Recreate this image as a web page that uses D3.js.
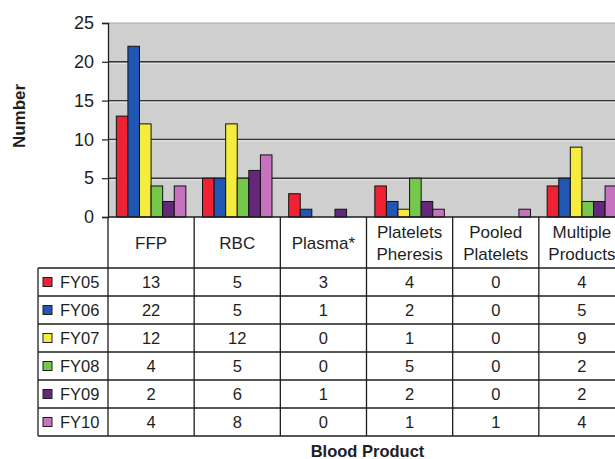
<!DOCTYPE html>
<html>
<head>
<meta charset="utf-8">
<script src="https://cdn.jsdelivr.net/npm/d3@7"></script>
<style>
  html, body { margin: 0; padding: 0; background: #fff; overflow: hidden; }
  svg { display: block; font-family: "Liberation Sans", Arial, sans-serif; }
</style>
</head>
<body>
<svg id="chart" width="615" height="459"></svg>
<script>
// Blood product categories (header lines for the data table)
const categories = ["FFP", "RBC", "Plasma*", "Platelets Pheresis", "Pooled Platelets", "Multiple Products"];
const categoryLines = [["FFP"], ["RBC"], ["Plasma*"], ["Platelets", "Pheresis"], ["Pooled", "Platelets"], ["Multiple", "Products"]];

// Fiscal years and counts per category
const years = ["FY05", "FY06", "FY07", "FY08", "FY09", "FY10"];
const fy05 = [13, 5, 3, 4, 0, 4];
const fy06 = [22, 5, 1, 2, 0, 5];
const fy07 = [12, 12, 0, 1, 0, 9];
const fy08 = [4, 5, 0, 5, 0, 2];
const fy09 = [2, 6, 1, 2, 0, 2];
const fy10 = [4, 8, 0, 1, 1, 4];
const seriesValues = [fy05, fy06, fy07, fy08, fy09, fy10];
const colors = ["#ee2233", "#2256b4", "#f6ec3e", "#76c84c", "#64287a", "#c672be"];

const yTicks = [0, 5, 10, 15, 20, 25];

const svg = d3.select("#chart");

const plotLeft = 108, plotRight = 625, plotTop = 23, plotBottom = 217;
const rowTop = 268, rowH = 28, legendLeft = 38;
const ink = "#1e1e1e";

const x = d3.scaleBand().domain(categories).range([plotLeft, plotRight]).paddingInner(0);
const xs = d3.scaleBand().domain(years).range([0, x.bandwidth()]).paddingOuter(0.72).paddingInner(0);
const y = d3.scaleLinear().domain([0, 25]).range([plotBottom, plotTop]);

// plot background
svg.append("rect")
  .attr("x", plotLeft).attr("y", plotTop)
  .attr("width", plotRight - plotLeft).attr("height", plotBottom - plotTop)
  .attr("fill", "#cfcfcf");

// gridlines with a light edge beneath
const grid = svg.append("g");
yTicks.filter(t => t > 0 && t < 25).forEach(t => {
  grid.append("line").attr("x1", plotLeft).attr("x2", plotRight)
    .attr("y1", y(t) + 1.6).attr("y2", y(t) + 1.6)
    .attr("stroke", "#e6e6e6").attr("stroke-width", 1);
  grid.append("line").attr("x1", plotLeft).attr("x2", plotRight)
    .attr("y1", y(t)).attr("y2", y(t))
    .attr("stroke", "#353535").attr("stroke-width", 1.4);
});
grid.append("line").attr("x1", plotLeft).attr("x2", plotRight)
  .attr("y1", y(25)).attr("y2", y(25))
  .attr("stroke", "#a8a8a8").attr("stroke-width", 1.2);

// bars
const groups = svg.append("g").selectAll("g")
  .data(categories)
  .join("g")
  .attr("transform", d => `translate(${x(d)},0)`);

groups.selectAll("rect")
  .data((d, ci) => years.map((yr, si) => ({ yr, v: seriesValues[si][ci], c: colors[si] })))
  .join("rect")
  .filter(d => d.v > 0)
  .attr("x", d => xs(d.yr))
  .attr("width", xs.bandwidth())
  .attr("y", d => y(d.v))
  .attr("height", d => y(0) - y(d.v))
  .attr("fill", d => d.c)
  .attr("stroke", "#111")
  .attr("stroke-width", 1);

// y axis
const yAxis = d3.axisLeft(y).tickValues(yTicks).tickSize(6).tickPadding(8).tickFormat(d3.format("d"));
const ya = svg.append("g").attr("transform", `translate(${plotLeft},0)`).call(yAxis);
ya.select(".domain").attr("stroke", ink).attr("stroke-width", 1.3);
ya.selectAll(".tick line").attr("stroke", ink).attr("stroke-width", 1.2);
ya.selectAll(".tick text").attr("font-size", 18).attr("fill", ink)
  .attr("font-family", "Liberation Sans, Arial, sans-serif");

// data table
const table = svg.append("g").attr("stroke", ink).attr("stroke-width", 1.3);
const tableBottom = rowTop + rowH * years.length;
// axis baseline / table top
table.append("line").attr("x1", plotLeft).attr("x2", plotRight).attr("y1", plotBottom).attr("y2", plotBottom);
// column lines
d3.range(categories.length + 1).forEach(i => {
  const cx = i < categories.length ? x(categories[i]) : plotRight;
  table.append("line").attr("x1", cx).attr("x2", cx).attr("y1", plotBottom).attr("y2", tableBottom);
});
// legend column left edge
table.append("line").attr("x1", legendLeft).attr("x2", legendLeft).attr("y1", rowTop).attr("y2", tableBottom);
// row lines
d3.range(years.length + 1).forEach(i => {
  const ry = rowTop + i * rowH;
  table.append("line").attr("x1", legendLeft).attr("x2", plotRight).attr("y1", ry).attr("y2", ry);
});

// header labels
const hdr = svg.append("g").attr("font-size", 17).attr("fill", ink).attr("text-anchor", "middle");
categories.forEach((c, i) => {
  const lines = categoryLines[i];
  const cx = x(c) + x.bandwidth() / 2;
  const mid = (plotBottom + rowTop) / 2;
  lines.forEach((ln, j) => {
    hdr.append("text")
      .attr("x", cx)
      .attr("y", mid + (j - (lines.length - 1) / 2) * 22)
      .attr("dy", "0.36em")
      .text(ln);
  });
});

// legend keys and row values
const rows = svg.append("g").attr("font-size", 16.5).attr("fill", ink);
years.forEach((yr, si) => {
  const cy = rowTop + si * rowH + rowH / 2;
  rows.append("rect").attr("x", 43).attr("y", cy - 4.5).attr("width", 9).attr("height", 9)
    .attr("fill", colors[si]).attr("stroke", ink).attr("stroke-width", 1);
  rows.append("text").attr("x", 60).attr("y", cy).attr("dy", "0.36em")
    .attr("font-size", 16.5).text(yr);
  categories.forEach((c, ci) => {
    rows.append("text")
      .attr("x", x(c) + x.bandwidth() / 2)
      .attr("y", cy).attr("dy", "0.36em")
      .attr("text-anchor", "middle")
      .text(seriesValues[si][ci]);
  });
});

// axis titles
svg.append("text")
  .attr("transform", "translate(25,116) rotate(-90)")
  .attr("text-anchor", "middle")
  .attr("font-size", 17).attr("font-weight", "bold").attr("fill", ink)
  .text("Number");

svg.append("text")
  .attr("x", 367.5).attr("y", 457)
  .attr("text-anchor", "middle")
  .attr("font-size", 16.5).attr("font-weight", "bold").attr("fill", ink)
  .text("Blood Product");
</script>
</body>
</html>
